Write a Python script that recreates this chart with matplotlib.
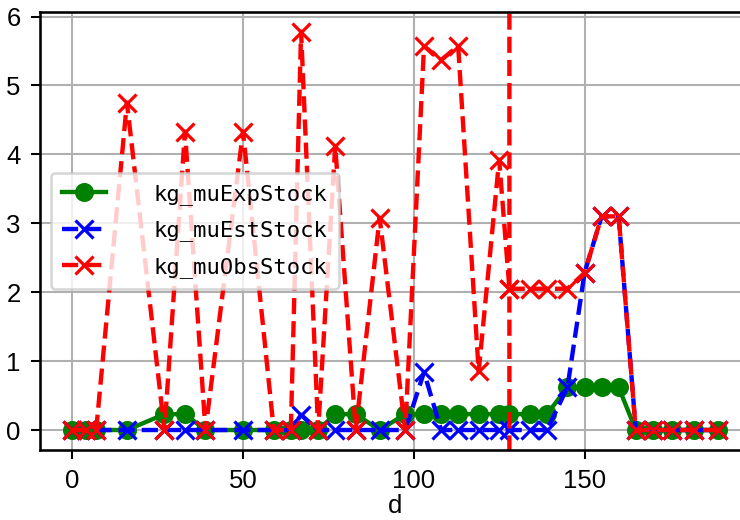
import numpy as np
import matplotlib
matplotlib.use("Agg")
import matplotlib.pyplot as plt

# ---- data ----
d = [0, 4, 7, 16, 27, 33, 39, 50, 59, 64, 67, 72, 77, 83, 90, 97.5,
     103, 108, 113, 119, 125, 128, 134, 139, 145, 150, 155, 160, 165,
     170, 175.5, 182, 189]
exp_stock = [0, 0, 0, 0, 0.23, 0.23, 0, 0, 0, 0, 0, 0, 0.23, 0.23, 0, 0.23,
             0.23, 0.23, 0.23, 0.23, 0.23, 0.23, 0.23, 0.23, 0.62, 0.62, 0.62, 0.62, 0,
             0, 0, 0, 0]
est_stock = [0, 0, 0, 0, 0, 0, 0, 0, 0, 0, 0.22, 0, 0, 0, 0, 0,
             0.84, 0, 0, 0, 0, 0, 0, 0, 0.62, 2.28, 3.1, 3.1, 0,
             0, 0, 0, 0]
# observed series: at d=128 the line runs off-scale above and below the axes
obs_d = [0, 4, 7, 16, 27, 33, 39, 50, 59, 64, 67, 72, 77, 83, 90, 97.5,
         103, 108, 113, 119, 125, 128, 128, 128, 128, 128, 134, 139, 145, 150, 155, 160, 165,
         170, 175.5, 182, 189]
obs_stock = [0, 0, 0, 4.75, 0, 4.33, 0, 4.33, 0, 0, 5.78, 0, 4.12, 0, 3.08, 0,
             5.57, 5.37, 5.57, 0.85, 3.92, 2.05, 1000, np.nan, -1000, 2.05, 2.05, 2.05, 2.05, 2.28, 3.1, 3.1, 0,
             0, 0, 0, 0]
labels = ["kg_muExpStock", "kg_muEstStock", "kg_muObsStock"]
xlabel = "d"

plt.rcParams['font.family'] = ['Liberation Sans', 'DejaVu Sans']

DPI = 185
fig = plt.figure(figsize=(740 / DPI, 520 / DPI), dpi=DPI)
ax = fig.add_axes([40 / 740, 70 / 520, 710 / 740, 438.3 / 520])

lw, ms, mew = 1.7, 6.4, 1.25
ax.plot(d, exp_stock, "o-", color="green", label=labels[0], lw=lw, ms=ms)
ax.plot(d, est_stock, "x--", color="blue", label=labels[1], lw=lw, ms=ms + 0.6, mew=mew)
ax.plot(obs_d, obs_stock, "x--", color="red", label=labels[2], lw=lw, ms=ms + 0.6, mew=mew)

ax.set_xlim(-9.45, 198.45)
ax.set_ylim(-0.29, 6.07)
ax.set_xticks([0, 50, 100, 150])
ax.set_yticks([0, 1, 2, 3, 4, 5, 6])
ax.grid(True)
ax.set_xlabel(xlabel, fontsize=10, labelpad=0.3)
ax.tick_params(labelsize=10, pad=4)
for s in ax.spines.values():
    s.set_linewidth(1.0)

leg = ax.legend(loc="center left", prop={"family": "DejaVu Sans Mono", "size": 8.6},
                handletextpad=2.15, labelspacing=0.7, borderpad=0.5)

fig.savefig("out.png", dpi=DPI)
